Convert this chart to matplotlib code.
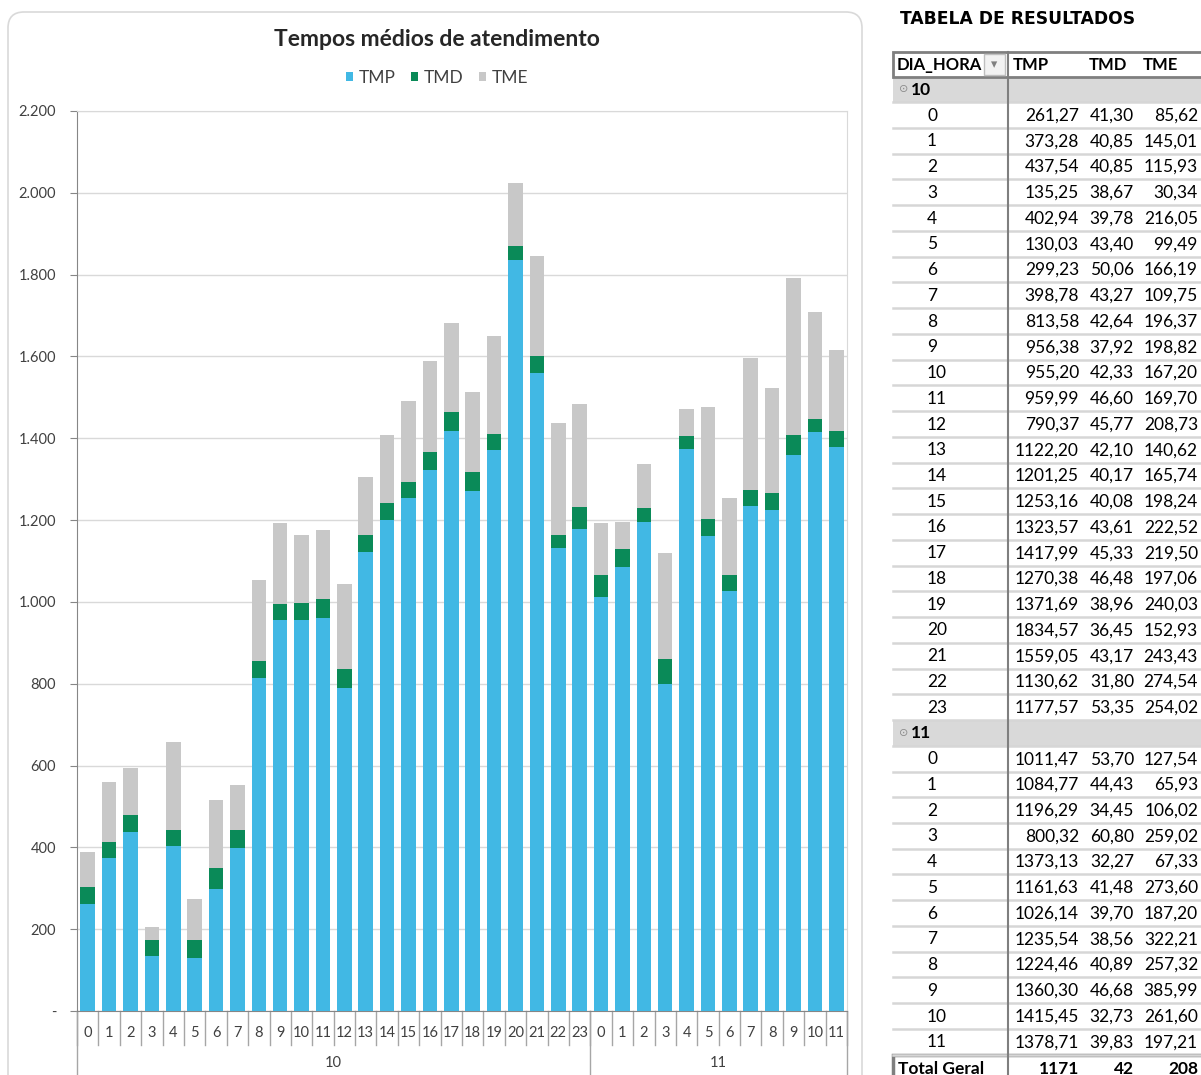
import numpy as np
import matplotlib
matplotlib.use("Agg")
import matplotlib.pyplot as plt
from matplotlib.patches import FancyBboxPatch, Rectangle
from matplotlib.ticker import FuncFormatter

# dados (DIA -> HORA)
dias = ["10", "11"]
horas_10 = [str(h) for h in range(24)]
horas_11 = [str(h) for h in range(12)]

tmp_10 = [261.27, 373.28, 437.54, 135.25, 402.94, 130.03, 299.23, 398.78,
          813.58, 956.38, 955.20, 959.99, 790.37, 1122.20, 1201.25, 1253.16,
          1323.57, 1417.99, 1270.38, 1371.69, 1834.57, 1559.05, 1130.62, 1177.57]
tmd_10 = [41.30, 40.85, 40.85, 38.67, 39.78, 43.40, 50.06, 43.27,
          42.64, 37.92, 42.33, 46.60, 45.77, 42.10, 40.17, 40.08,
          43.61, 45.33, 46.48, 38.96, 36.45, 43.17, 31.80, 53.35]
tme_10 = [85.62, 145.01, 115.93, 30.34, 216.05, 99.49, 166.19, 109.75,
          196.37, 198.82, 167.20, 169.70, 208.73, 140.62, 165.74, 198.24,
          222.52, 219.50, 197.06, 240.03, 152.93, 243.43, 274.54, 254.02]

tmp_11 = [1011.47, 1084.77, 1196.29, 800.32, 1373.13, 1161.63, 1026.14,
          1235.54, 1224.46, 1360.30, 1415.45, 1378.71]
tmd_11 = [53.70, 44.43, 34.45, 60.80, 32.27, 41.48, 39.70,
          38.56, 40.89, 46.68, 32.73, 39.83]
tme_11 = [127.54, 65.93, 106.02, 259.02, 67.33, 273.60, 187.20,
          322.21, 257.32, 385.99, 261.60, 197.21]

total_geral = [1171, 42, 208]

c_tmp = "#41B8E4"
c_tmd = "#0A8A58"
c_tme = "#C8C8C8"

W, H = 1201, 1075
fig = plt.figure(figsize=(W / 100, H / 100), dpi=100)

# camada de fundo em pixels (moldura + tabela)
bg = fig.add_axes([0, 0, 1, 1], zorder=0)
bg.set_xlim(0, W)
bg.set_ylim(H, 0)
bg.axis("off")

bg.add_patch(FancyBboxPatch((8, 12), 854, 1100, boxstyle="round,pad=0,rounding_size=16",
                            fc="white", ec="#D9D9D9", lw=1.2))

# ---------------- grafico ----------------
tmp = np.array(tmp_10 + tmp_11)
tmd = np.array(tmd_10 + tmd_11)
tme = np.array(tme_10 + tme_11)
labels = horas_10 + horas_11
x = np.arange(len(labels))

ax = fig.add_axes([77 / W, (H - 1011) / H, 770 / W, 900 / H], zorder=1)
ax.set_facecolor("none")
ax.bar(x, tmp, width=0.68, color=c_tmp, label="TMP", zorder=3)
ax.bar(x, tmd, width=0.68, bottom=tmp, color=c_tmd, label="TMD", zorder=3)
ax.bar(x, tme, width=0.68, bottom=tmp + tmd, color=c_tme, label="TME", zorder=3)

ax.set_xlim(-0.5, len(labels) - 0.5)
ax.set_ylim(0, 2200)
ax.set_yticks(np.arange(0, 2201, 200))
ax.yaxis.set_major_formatter(FuncFormatter(
    lambda v, p: "-" if v == 0 else f"{int(v):,}".replace(",", ".")))
ax.grid(axis="y", color="#D9D9D9", lw=1, zorder=0)
ax.tick_params(axis="y", length=5, color="#868686", labelsize=10.5,
               labelcolor="#404040", pad=10)
for lab in ax.get_yticklabels():
    lab.set_fontfamily("Lato")

ax.set_xticks(x)
ax.set_xticklabels(labels, fontfamily="Lato", fontsize=10.5, color="#404040")
ax.tick_params(axis="x", length=0, pad=11)

for s in ["left", "bottom"]:
    ax.spines[s].set_color("#868686")
for s in ["top", "right"]:
    ax.spines[s].set_color("#D9D9D9")

# separadores do eixo de categorias (dois niveis)
tr = ax.get_xaxis_transform()
for i in range(len(labels) + 1):
    ax.plot([i - 0.5, i - 0.5], [0, -0.038], transform=tr, color="#A6A6A6",
            lw=1, clip_on=False)
bounds = [0, len(horas_10), len(labels)]
for b in bounds:
    ax.plot([b - 0.5, b - 0.5], [0, -0.1], transform=tr, color="#A6A6A6",
            lw=1, clip_on=False)
for d, a, b in zip(dias, bounds[:-1], bounds[1:]):
    ax.text((a + b - 1) / 2, -0.058, d, transform=tr, ha="center", va="center",
            fontfamily="Lato", fontsize=10.5, color="#404040")

fig.text(437 / W, 1 - 39 / H, "Tempos médios de atendimento", ha="center",
         va="center", fontfamily="Lato", fontweight="bold", fontsize=16.5,
         color="#262626")
leg = ax.legend(loc="center", bbox_to_anchor=(437 / W, 1 - 78 / H),
                bbox_transform=fig.transFigure, ncol=3, frameon=False,
                handlelength=0.42, handleheight=0.42, handletextpad=0.3,
                columnspacing=0.9, prop={"family": "Lato", "size": 12.5})
for t in leg.get_texts():
    t.set_color("#404040")

# ---------------- tabela ----------------
bg.text(900, 19, "TABELA DE RESULTADOS", ha="left", va="center",
        fontfamily="DejaVu Sans", fontweight="heavy", fontsize=12.3, color="black")

pitch = 25.74
y0 = 89.4
left, sep, right = 893, 1008, 1215
col_tmp, col_tmd, col_tme = 1079, 1134, 1198
tfont = dict(fontfamily="Lato", fontsize=12.5, color="black")

# linhas da tabela
rows = []
rows.append(("grupo", dias[0], None))
for i, h in enumerate(horas_10):
    rows.append(("hora", h, (tmp_10[i], tmd_10[i], tme_10[i])))
rows.append(("grupo", dias[1], None))
for i, h in enumerate(horas_11):
    rows.append(("hora", h, (tmp_11[i], tmd_11[i], tme_11[i])))


def fmt(v):
    return f"{v:.2f}".replace(".", ",")


for k, (kind, lab, vals) in enumerate(rows):
    yc = y0 + pitch * k
    top = yc - pitch / 2
    if kind == "grupo":
        bg.add_patch(Rectangle((left, top), right - left, pitch, fc="#D9D9D9",
                               ec="none"))
        bg.text(899, yc, "⊙", ha="left", va="center", fontfamily="DejaVu Sans",
                fontsize=8, color="#8C8C8C")
        bg.text(911, yc + 0.5, lab, ha="left", va="center", fontweight="bold",
                fontfamily="Lato", fontsize=12.5)
    else:
        bg.text(927, yc + 0.5, lab, ha="left", va="center", **tfont)
        for cx, v in zip([col_tmp, col_tmd, col_tme], vals):
            bg.text(cx, yc + 0.5, fmt(v), ha="right", va="center", **tfont)
    bg.plot([left, right], [top + pitch, top + pitch], color="#D6D6D6", lw=1.8)

# cabecalho
bg.add_patch(Rectangle((left, 52), right - left, 25, fc="white", ec="#7F7F7F", lw=2))
bg.text(897, 65, "DIA_HORA", ha="left", va="center", fontweight="bold",
        fontfamily="Lato", fontsize=12)
bg.add_patch(Rectangle((984, 54), 21, 21, fc="#F2F2F2", ec="#BFBFBF", lw=1))
bg.text(994.5, 64.5, "▾", ha="center", va="center", fontfamily="DejaVu Sans",
        fontsize=9, color="#808080")
for lab, xl in zip(["TMP", "TMD", "TME"], [1013, 1089, 1143]):
    bg.text(xl, 65, lab, ha="left", va="center", fontweight="bold",
            fontfamily="Lato", fontsize=12)

# total geral
yt = y0 + pitch * len(rows)
bg.add_patch(Rectangle((left, yt - pitch / 2), right - left, 40, fc="white",
                       ec="#7F7F7F", lw=2.5))
bg.text(898, yt + 1, "Total Geral", ha="left", va="center", fontweight="bold",
        fontfamily="Lato", fontsize=12.5)
for cx, v in zip([col_tmp, col_tmd, col_tme], total_geral):
    bg.text(cx, yt + 1, str(v), ha="right", va="center", fontweight="bold",
            fontfamily="Lato", fontsize=12.5)

bg.plot([sep, sep], [52, H], color="#7F7F7F", lw=1.5)

fig.savefig("out.png", dpi=100)
